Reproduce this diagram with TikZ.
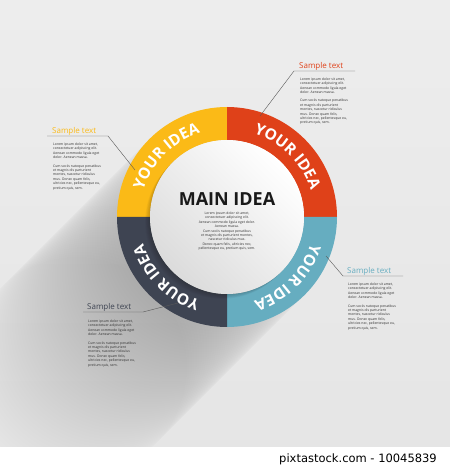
\documentclass[tikz,border=0pt]{standalone}
\usepackage{fontspec}
\setmainfont{Open Sans}
\newfontfamily\stockfont{DejaVu Sans}
\usetikzlibrary{decorations.text}

\definecolor{ideaYellow}{HTML}{FBBA17}
\definecolor{ideaRed}{HTML}{DF4119}
\definecolor{ideaTeal}{HTML}{66ADC0}
\definecolor{ideaNavy}{HTML}{3E4452}
\definecolor{paperTop}{HTML}{EDEDED}
\definecolor{paperBot}{HTML}{E5E5E5}
\definecolor{inkgrey}{HTML}{2E2E2E}

\newcommand\ideafont{\fontsize{15.5}{15.5}\selectfont\bfseries}
\newcommand\blurbsize{\fontsize{3.4}{4.4}\selectfont}
\newcommand\sidetext{Lorem ipsum dolor sit amet,\\consectetuer adipiscing elit.\\
  Aenean commodo ligula eget\\dolor. Aenean massa.\\[4pt]
  Cum sociis natoque penatibus\\et magnis dis parturient\\montes, nascetur ridiculus\\
  mus. Donec quam felis,\\ultricies nec, pellentesque eu,\\pretium quis, sem.}

\begin{document}
\begin{tikzpicture}[x=1pt, y=1pt,
    sample/.style ={anchor=base west, inner sep=0, text=#1,
                    font=\fontsize{8}{8}\selectfont},
    blurb/.style  ={anchor=north west, inner sep=0, align=left, text=inkgrey,
                    font=\blurbsize},
    leader/.style ={draw=black!65, line width=0.4pt}]
   \useasboundingbox (0,0) rectangle (450,469);
   \shade[top color=paperTop, bottom color=paperBot] (0,0) rectangle (450,469);

   \coordinate (c) at (227,252);

   % long shadow
   \foreach \i in {1,...,60}
     \fill[black, opacity=0.0026] (c) ++(-2.5*\i,-2.5*\i) circle (110);
   \fill[white] (0,0) rectangle (450,22);

   % ring
   \foreach \a/\col in {90/ideaYellow, 0/ideaRed, -90/ideaTeal, -180/ideaNavy}
     \fill[\col] (c) ++(\a:110) arc[start angle=\a, end angle=\a+90, radius=110]
        -- ++(\a+90:-33) arc[start angle=\a+90, end angle=\a, radius=77] -- cycle;

   \foreach \i in {1,...,6}
     \fill[black, opacity=0.03] (c) ++(-0.8*\i,-0.8*\i) circle (77);
   \shade[top color=white, bottom color=black!14, shading angle=-45] (c) circle (77);

   \foreach \a in {90, 0, -90, -180}
     \path[decorate, decoration={text along path, text={|\ideafont|YOUR IDEA},
          text align=center, text color=white}]
        (c) ++(\a+90:88) arc[start angle=\a+90, end angle=\a, radius=88];

   \node[inner sep=0, text=black!90, font=\fontsize{18}{18}\selectfont\bfseries]
      (main) at (227,270) {MAIN IDEA};
   \node[inner sep=0, anchor=north, align=center, text=inkgrey, font=\blurbsize]
      (mainbody) at (227,257.3) {Lorem ipsum dolor sit amet,\\consectetuer adipiscing elit.\\
      Aenean commodo ligula eget dolor.\\Aenean massa.\\Cum sociis natoque penatibus\\
      et magnis dis parturient montes,\\nascetur ridiculus mus.\\
      Donec quam felis, ultricies nec,\\pellentesque eu, pretium quis, sem.};

   % top right
   \node[sample=ideaRed] (trhead) at (299,400) {Sample text};
   \node[blurb] (trbody) at (300,391.5) {\sidetext};
   \coordinate (trA) at (294,398);
   \coordinate (trB) at (355,398);
   \coordinate (trC) at (260,353);
   \draw[leader] (trB) -- (trA) -- (trC);

   % left
   \node[sample=ideaYellow] (lhead) at (52,335) {Sample text};
   \node[blurb] (lbody) at (53,326.3) {\sidetext};
   \coordinate (lA) at (47,333);
   \coordinate (lB) at (108,333);
   \coordinate (lC) at (135,299);
   \draw[leader] (lA) -- (lB) -- (lC);

   % right
   \node[sample=ideaTeal] (rhead) at (347,195) {Sample text};
   \node[blurb] (rbody) at (348,186.3) {\sidetext};
   \coordinate (rA) at (403,193);
   \coordinate (rB) at (343,193);
   \coordinate (rC) at (326,213);
   \draw[leader] (rA) -- (rB) -- (rC);

   % bottom left
   \node[sample=ideaNavy] (blhead) at (87,159) {Sample text};
   \node[blurb] (blbody) at (88,149.3) {\sidetext};
   \coordinate (blA) at (83,157);
   \coordinate (blB) at (143,157);
   \coordinate (blC) at (178,166);
   \draw[leader] (blA) -- (blB) -- (blC);

   \node[inner sep=0, anchor=base east, font=\stockfont\fontsize{11.5}{11.5}\selectfont]
      (stock) at (437,6) {pixtastock.com - 10045839};
 \end{tikzpicture}
\end{document}
